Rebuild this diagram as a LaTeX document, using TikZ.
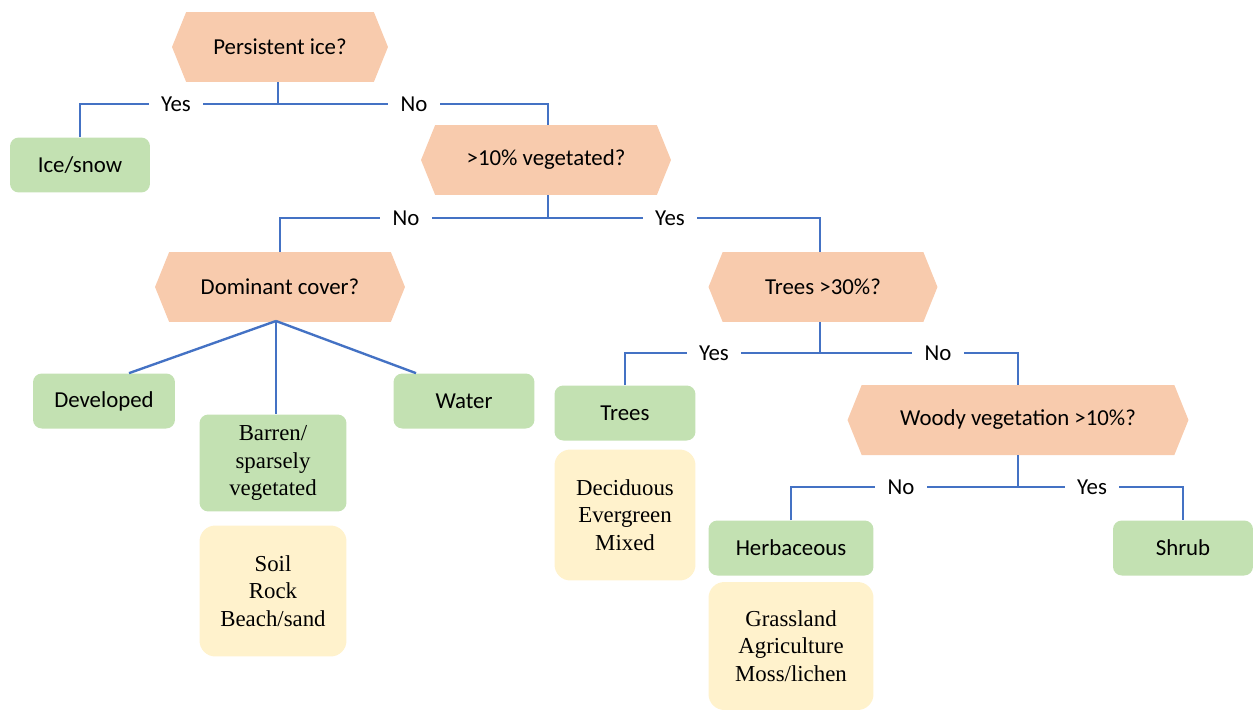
\documentclass[tikz,border=0pt]{standalone}
\usepackage{fontspec}
\setmainfont{Carlito}
\newfontfamily\listfont{Liberation Serif}
\usetikzlibrary{shapes.symbols,calc}

\definecolor{qpeach}{HTML}{F8CBAD}
\definecolor{cgreen}{HTML}{C3E1B2}
\definecolor{lyellow}{HTML}{FFF2CC}
\definecolor{lblue}{HTML}{4472C4}

\tikzset{
    question/.style={shape=signal, signal to=west and east, signal pointer angle=136,
        fill=qpeach, minimum height=1.4cm, inner sep=0pt,
        font=\fontsize{13}{15.6}\selectfont},
    cover/.style={rectangle, rounded corners=5pt, fill=cgreen, minimum height=1.1cm,
        inner sep=0pt, align=center, font=\fontsize{13}{15.6}\selectfont},
    sublist/.style={rectangle, rounded corners=9pt, fill=lyellow, inner sep=0pt,
        align=center, font=\listfont\fontsize{13}{15.6}\selectfont},
    link/.style={draw=lblue, line width=1.35pt},
    answer/.style={fill=white, inner xsep=7pt, inner ysep=1pt,
        font=\fontsize{13}{15.6}\selectfont}
}

\begin{document}
\begin{tikzpicture}[x=0.02cm, y=-0.02cm]
    \useasboundingbox (0,0) rectangle (1253,710);

    % Domande
    \node[question, minimum width=4.32cm] (q1) at (280,47) {Persistent ice?};
    \node[question, minimum width=5.0cm] (q2) at (546,160) {>10\% vegetated?};
    \node[question, minimum width=5.0cm] (q3) at (280,287) {Dominant cover?};
    \node[question, minimum width=4.58cm] (q4) at (823,287) {Trees >30\%?};
    \node[question, minimum width=6.82cm] (q5) at (1018,420) {Woody vegetation >10\%?};

    % Classi
    \node[cover, minimum width=2.8cm] (snow) at (80,165) {Ice/snow};
    \node[cover, minimum width=2.84cm] (dev) at (104,401) {Developed};
    \node[cover, minimum width=2.82cm] (water) at (464,401) {Water};
    \node[cover, minimum width=2.94cm, minimum height=1.94cm] (barren) at (273,463)
        {\listfont Barren/\\\listfont sparsely\\\listfont vegetated};
    \node[cover, minimum width=2.82cm] (trees) at (625,413) {Trees};
    \node[cover, minimum width=3.3cm] (herb) at (791,548) {Herbaceous};
    \node[cover, minimum width=2.8cm] (shrub) at (1183,548) {Shrub};

    % Sottoclassi
    \node[sublist, minimum width=2.94cm, minimum height=2.62cm] (soil) at (273,591)
        {Soil\\Rock\\Beach/sand};
    \node[sublist, minimum width=2.82cm, minimum height=2.62cm] (decid) at (625,515)
        {Deciduous\\Evergreen\\Mixed};
    \node[sublist, minimum width=3.3cm, minimum height=2.56cm] (grass) at (791,646)
        {Grassland\\Agriculture\\Moss/lichen};

    % Rami
    \coordinate (b1) at (278,104);
    \coordinate (b2) at (548,218);
    \coordinate (b4) at (820,353);
    \coordinate (b5) at (1018,487);
    \draw[link] (q1.south -| b1) -- (b1);
    \draw[link] (snow.north) |- (b1) -| (q2.north -| b2);
    \draw[link] (q2.south -| b2) -- (b2);
    \draw[link] (q3.north) |- (b2) -| (q4.north -| b4);
    \draw[link] (q4.south -| b4) -- (b4);
    \draw[link] (trees.north) |- (b4) -| (q5.north);
    \draw[link] (q5.south) -- (b5);
    \draw[link] (herb.north) |- (b5) -| (shrub.north);

    \coordinate (b3) at (276,321);
    \draw[link] (b3) -- ($(dev.north)+(25,0)$);
    \draw[link] (b3) -- (barren.north -| b3);
    \draw[link] (b3) -- ($(water.north)+(-48,0)$);

    % Etichette
    \node[answer] (a1) at (176,104) {Yes};
    \node[answer] (a2) at (414,104) {No};
    \node[answer] (a3) at (406,218) {No};
    \node[answer] (a4) at (670,218) {Yes};
    \node[answer] (a5) at (714,353) {Yes};
    \node[answer] (a6) at (938,353) {No};
    \node[answer] (a7) at (901,487) {No};
    \node[answer] (a8) at (1092,487) {Yes};
\end{tikzpicture}
\end{document}
